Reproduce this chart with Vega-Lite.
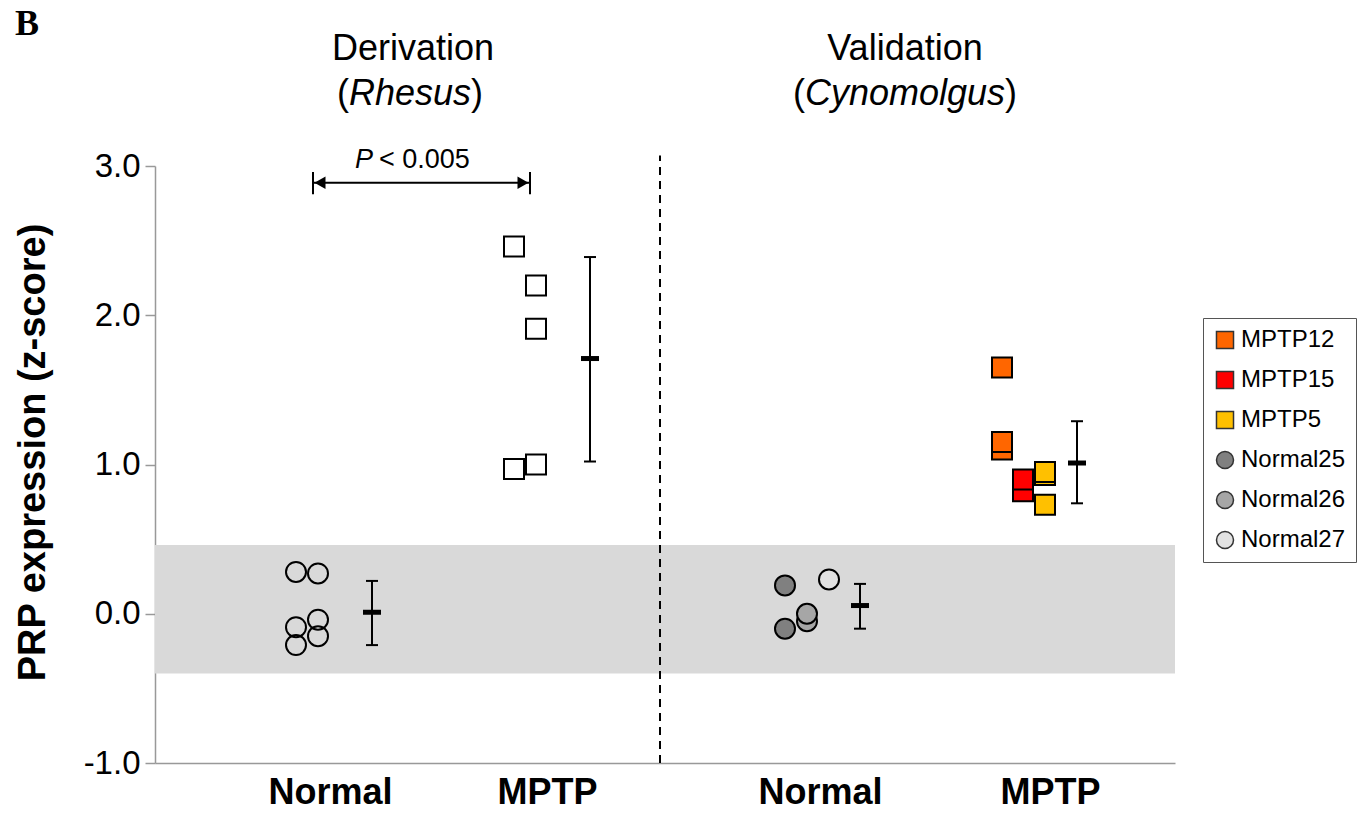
{
  "$schema": "https://vega.github.io/schema/vega-lite/v6.json",
  "width": 1020,
  "height": 597,
  "autosize": {"type": "none"},
  "padding": {"left": 155, "top": 166, "right": 188, "bottom": 58},
  "background": "white",
  "config": {"view": {"stroke": null}, "font": "Liberation Sans", "text": {"font": "Liberation Sans", "color": "black"}},
  "datasets": {
    "points": [
      {"study": "Derivation", "group": "Normal", "id": "Rhesus", "col": 1.41, "z": 0.28},
      {"study": "Derivation", "group": "Normal", "id": "Rhesus", "col": 1.41, "z": -0.09},
      {"study": "Derivation", "group": "Normal", "id": "Rhesus", "col": 1.41, "z": -0.21},
      {"study": "Derivation", "group": "Normal", "id": "Rhesus", "col": 1.63, "z": 0.27},
      {"study": "Derivation", "group": "Normal", "id": "Rhesus", "col": 1.63, "z": -0.04},
      {"study": "Derivation", "group": "Normal", "id": "Rhesus", "col": 1.63, "z": -0.15},
      {"study": "Derivation", "group": "MPTP", "id": "Rhesus", "col": 3.59, "z": 2.46},
      {"study": "Derivation", "group": "MPTP", "id": "Rhesus", "col": 3.59, "z": 0.97},
      {"study": "Derivation", "group": "MPTP", "id": "Rhesus", "col": 3.81, "z": 2.20},
      {"study": "Derivation", "group": "MPTP", "id": "Rhesus", "col": 3.81, "z": 1.91},
      {"study": "Derivation", "group": "MPTP", "id": "Rhesus", "col": 3.81, "z": 1.00},
      {"study": "Validation", "group": "Normal", "id": "Normal25", "col": 6.30, "z": 0.19},
      {"study": "Validation", "group": "Normal", "id": "Normal25", "col": 6.30, "z": -0.10},
      {"study": "Validation", "group": "Normal", "id": "Normal26", "col": 6.52, "z": -0.05},
      {"study": "Validation", "group": "Normal", "id": "Normal26", "col": 6.52, "z": 0.00},
      {"study": "Validation", "group": "Normal", "id": "Normal27", "col": 6.74, "z": 0.23},
      {"study": "Validation", "group": "MPTP", "id": "MPTP12", "col": 8.47, "z": 1.65},
      {"study": "Validation", "group": "MPTP", "id": "MPTP12", "col": 8.47, "z": 1.10},
      {"study": "Validation", "group": "MPTP", "id": "MPTP12", "col": 8.47, "z": 1.15},
      {"study": "Validation", "group": "MPTP", "id": "MPTP15", "col": 8.68, "z": 0.82},
      {"study": "Validation", "group": "MPTP", "id": "MPTP15", "col": 8.68, "z": 0.90},
      {"study": "Validation", "group": "MPTP", "id": "MPTP5", "col": 8.90, "z": 0.73},
      {"study": "Validation", "group": "MPTP", "id": "MPTP5", "col": 8.90, "z": 0.93},
      {"study": "Validation", "group": "MPTP", "id": "MPTP5", "col": 8.90, "z": 0.95}
    ],
    "summary": [
      {"study": "Derivation", "group": "Normal", "col": 2.17, "mean": 0.01, "lo": -0.21, "hi": 0.22},
      {"study": "Derivation", "group": "MPTP", "col": 4.35, "mean": 1.71, "lo": 1.02, "hi": 2.39},
      {"study": "Validation", "group": "Normal", "col": 7.05, "mean": 0.055, "lo": -0.10, "hi": 0.20},
      {"study": "Validation", "group": "MPTP", "col": 9.22, "mean": 1.01, "lo": 0.74, "hi": 1.29}
    ]
  },
  "layer": [
    {
      "data": {"values": [{"lo": -0.40, "hi": 0.46}]},
      "mark": {"type": "rect", "fill": "#d9d9d9"},
      "encoding": {
        "x": {"datum": 0, "type": "quantitative", "scale": {"domain": [0, 10.2], "nice": false, "zero": false},
          "axis": {"values": [1.75, 3.92, 6.65, 8.95], "labelExpr": "(datum.value < 3 || (datum.value > 5 && datum.value < 8)) ? 'Normal' : 'MPTP'",
            "ticks": false, "grid": false, "domainColor": "#999", "domainWidth": 1.5, "labelFontSize": 36, "labelFontWeight": "bold",
            "labelColor": "black", "labelPadding": 12, "title": null, "labelFont": "Liberation Sans"}},
        "x2": {"datum": 10.2},
        "y": {"field": "lo", "type": "quantitative", "scale": {"domain": [-1, 3], "nice": false, "zero": false},
          "axis": {"values": [-1, 0, 1, 2, 3], "labelExpr": "datum.value < 0 ? '-' + format(-datum.value, '.1f') : format(datum.value, '.1f')",
            "grid": false, "domainColor": "#999", "domainWidth": 1.5,
            "tickColor": "#999", "tickSize": 10, "tickWidth": 1.5, "labelFontSize": 33, "labelColor": "black", "labelPadding": 5,
            "labelFont": "Liberation Sans",
            "title": "PRP expression (z-score)", "titleFontSize": 38, "titleFontWeight": "bold", "titleColor": "black",
            "titleFont": "Liberation Sans", "titleX": -122, "titleY": 286, "titleAlign": "center", "titleBaseline": "middle", "titleAngle": -90}},
        "y2": {"field": "hi"}
      }
    },
    {
      "data": {"values": [{}]},
      "mark": {"type": "rule", "stroke": "black", "strokeWidth": 2, "strokeDash": [8, 6]},
      "encoding": {"x": {"datum": 5.05}, "y": {"datum": -1}, "y2": {"datum": 3.07}}
    },
    {
      "data": {"name": "points"},
      "transform": [{"filter": "datum.study == 'Derivation' && datum.group == 'Normal'"}],
      "mark": {"type": "point", "shape": "circle", "filled": false, "stroke": "black", "strokeWidth": 2, "size": 400, "opacity": 1},
      "encoding": {"x": {"field": "col", "type": "quantitative"}, "y": {"field": "z", "type": "quantitative"}}
    },
    {
      "data": {"name": "points"},
      "transform": [{"filter": "datum.study == 'Derivation' && datum.group == 'MPTP'"}],
      "mark": {"type": "point", "shape": "square", "filled": true, "fill": "white", "stroke": "black", "strokeWidth": 2, "size": 400, "opacity": 1},
      "encoding": {"x": {"field": "col", "type": "quantitative"}, "y": {"field": "z", "type": "quantitative"}}
    },
    {
      "data": {"name": "points"},
      "transform": [{"filter": "datum.study == 'Validation'"}],
      "mark": {"type": "point", "filled": true, "stroke": "black", "strokeWidth": 2, "size": 400, "opacity": 1},
      "encoding": {
        "x": {"field": "col", "type": "quantitative"},
        "y": {"field": "z", "type": "quantitative"},
        "fill": {"field": "id", "type": "nominal",
          "scale": {"domain": ["MPTP12", "MPTP15", "MPTP5", "Normal25", "Normal26", "Normal27"],
            "range": ["#ff6600", "#ff0000", "#ffc000", "#808080", "#a6a6a6", "#e2e2e2"]},
          "legend": {"title": null, "orient": "none", "legendX": 1048, "legendY": 152, "labelFontSize": 24, "labelColor": "black",
            "labelFont": "Liberation Sans", "symbolSize": 290, "symbolStrokeColor": "#333", "symbolStrokeWidth": 1.5,
            "rowPadding": 16, "padding": 10, "strokeColor": "#555", "fillColor": "white", "labelOffset": 4, "symbolOpacity": 1,
            "encode": {"symbols": {"update": {"stroke": {"value": "#333"}, "strokeWidth": {"value": 1.5}}}}}},
        "shape": {"field": "id", "type": "nominal",
          "scale": {"domain": ["MPTP12", "MPTP15", "MPTP5", "Normal25", "Normal26", "Normal27"],
            "range": ["square", "square", "square", "circle", "circle", "circle"]},
          "legend": {"title": null, "orient": "none", "legendX": 1048, "legendY": 152, "labelFontSize": 24, "labelColor": "black",
            "labelFont": "Liberation Sans", "symbolSize": 290, "symbolStrokeColor": "#333", "symbolStrokeWidth": 1.5,
            "rowPadding": 16, "padding": 10, "strokeColor": "#555", "fillColor": "white", "labelOffset": 4, "symbolOpacity": 1,
            "encode": {"symbols": {"update": {"stroke": {"value": "#333"}, "strokeWidth": {"value": 1.5}}}}}}
      }
    },
    {
      "data": {"name": "summary"},
      "mark": {"type": "rule", "stroke": "black", "strokeWidth": 2},
      "encoding": {"x": {"field": "col", "type": "quantitative"}, "y": {"field": "lo", "type": "quantitative"}, "y2": {"field": "hi"}}
    },
    {
      "data": {"name": "summary"},
      "mark": {"type": "tick", "orient": "horizontal", "color": "black", "size": 12, "thickness": 2, "opacity": 1},
      "encoding": {"x": {"field": "col", "type": "quantitative"}, "y": {"field": "lo", "type": "quantitative"}}
    },
    {
      "data": {"name": "summary"},
      "mark": {"type": "tick", "orient": "horizontal", "color": "black", "size": 12, "thickness": 2, "opacity": 1},
      "encoding": {"x": {"field": "col", "type": "quantitative"}, "y": {"field": "hi", "type": "quantitative"}}
    },
    {
      "data": {"name": "summary"},
      "mark": {"type": "tick", "orient": "horizontal", "color": "black", "size": 18, "thickness": 5, "opacity": 1},
      "encoding": {"x": {"field": "col", "type": "quantitative"}, "y": {"field": "mean", "type": "quantitative"}}
    },
    {
      "data": {"values": [{"a": 1.58, "b": 3.75, "y": 2.888}]},
      "mark": {"type": "rule", "stroke": "black", "strokeWidth": 2},
      "encoding": {"x": {"field": "a", "type": "quantitative"}, "x2": {"field": "b"}, "y": {"field": "y", "type": "quantitative"}}
    },
    {
      "data": {"values": [{"x": 1.58, "lo": 2.81, "hi": 2.96}, {"x": 3.75, "lo": 2.81, "hi": 2.96}]},
      "mark": {"type": "rule", "stroke": "black", "strokeWidth": 2},
      "encoding": {"x": {"field": "x", "type": "quantitative"}, "y": {"field": "lo", "type": "quantitative"}, "y2": {"field": "hi"}}
    },
    {
      "data": {"values": [{"x": 1.65, "y": 2.888}]},
      "mark": {"type": "point", "shape": "triangle-left", "filled": true, "color": "black", "size": 160, "opacity": 1},
      "encoding": {"x": {"field": "x", "type": "quantitative"}, "y": {"field": "y", "type": "quantitative"}}
    },
    {
      "data": {"values": [{"x": 3.68, "y": 2.888}]},
      "mark": {"type": "point", "shape": "triangle-right", "filled": true, "color": "black", "size": 160, "opacity": 1},
      "encoding": {"x": {"field": "x", "type": "quantitative"}, "y": {"field": "y", "type": "quantitative"}}
    },
    {
      "data": {"values": [{"x": 2.00, "y": 2.988, "t": "P"}]},
      "mark": {"type": "text", "align": "left", "baseline": "alphabetic", "fontSize": 27, "fontStyle": "italic"},
      "encoding": {"x": {"field": "x", "type": "quantitative"}, "y": {"field": "y", "type": "quantitative"}, "text": {"field": "t"}}
    },
    {
      "data": {"values": [{"x": 2.24, "y": 2.988, "t": "< 0.005"}]},
      "mark": {"type": "text", "align": "left", "baseline": "alphabetic", "fontSize": 27},
      "encoding": {"x": {"field": "x", "type": "quantitative"}, "y": {"field": "y", "type": "quantitative"}, "text": {"field": "t"}}
    },
    {
      "data": {"values": [{"x": 2.58, "y": 3.712, "t": "Derivation"}, {"x": 7.50, "y": 3.712, "t": "Validation"}]},
      "mark": {"type": "text", "align": "center", "baseline": "alphabetic", "fontSize": 36},
      "encoding": {"x": {"field": "x", "type": "quantitative"}, "y": {"field": "y", "type": "quantitative"}, "text": {"field": "t"}}
    },
    {
      "data": {"values": [{"x": 2.55, "y": 3.41, "t": "Rhesus"}, {"x": 7.50, "y": 3.41, "t": "Cynomolgus"}]},
      "mark": {"type": "text", "align": "center", "baseline": "alphabetic", "fontSize": 36, "fontStyle": "italic"},
      "encoding": {"x": {"field": "x", "type": "quantitative"}, "y": {"field": "y", "type": "quantitative"}, "text": {"field": "t"}}
    },
    {
      "data": {"values": [{"x": 1.94, "y": 3.41, "t": "("}, {"x": 6.50, "y": 3.41, "t": "("}]},
      "mark": {"type": "text", "align": "right", "baseline": "alphabetic", "fontSize": 36},
      "encoding": {"x": {"field": "x", "type": "quantitative"}, "y": {"field": "y", "type": "quantitative"}, "text": {"field": "t"}}
    },
    {
      "data": {"values": [{"x": 3.16, "y": 3.41, "t": ")"}, {"x": 8.50, "y": 3.41, "t": ")"}]},
      "mark": {"type": "text", "align": "left", "baseline": "alphabetic", "fontSize": 36},
      "encoding": {"x": {"field": "x", "type": "quantitative"}, "y": {"field": "y", "type": "quantitative"}, "text": {"field": "t"}}
    },
    {
      "data": {"values": [{"x": -1.40, "y": 3.88, "t": "B"}]},
      "mark": {"type": "text", "align": "left", "baseline": "alphabetic", "fontSize": 36, "fontWeight": "bold", "font": "Liberation Serif"},
      "encoding": {"x": {"field": "x", "type": "quantitative"}, "y": {"field": "y", "type": "quantitative"}, "text": {"field": "t"}}
    }
  ]
}
